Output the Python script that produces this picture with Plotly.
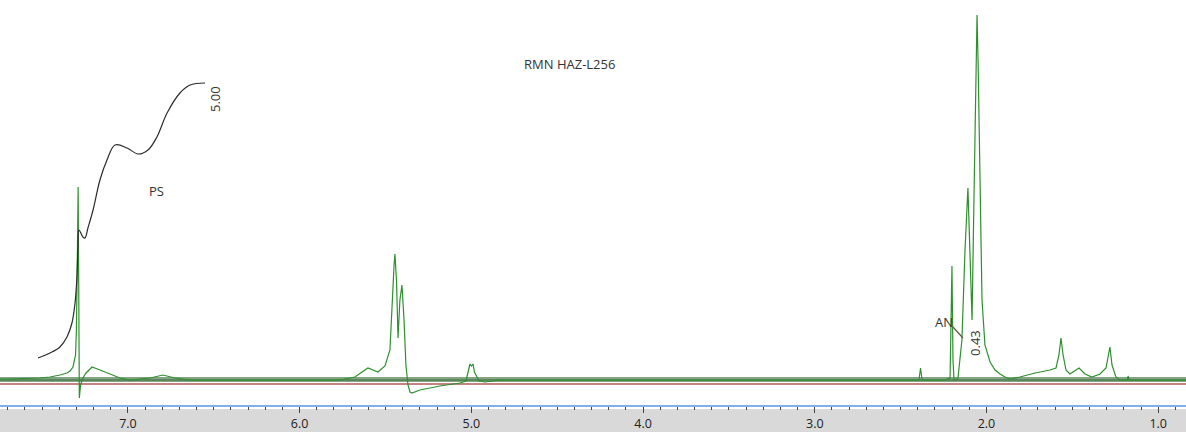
import plotly.graph_objects as go

# 1H NMR spectrum trace (chemical shift in ppm, intensity in arbitrary units)
spec_ppm = [7.745, 7.698, 7.512, 7.454, 7.396, 7.355, 7.337, 7.320, 7.305, 7.300,
            7.294, 7.290, 7.286, 7.283, 7.276, 7.262, 7.244, 7.209, 7.163, 7.104,
            7.046, 6.988, 6.871, 6.796, 6.726, 6.638, 5.765, 5.678, 5.602, 5.544,
            5.503, 5.474, 5.462, 5.450, 5.445, 5.436, 5.427, 5.416, 5.404, 5.392,
            5.381, 5.369, 5.357, 5.346, 5.299, 5.183, 5.066, 5.031, 5.019, 5.008,
            4.999, 4.990, 4.982, 4.973, 4.967, 4.955, 4.920, 4.833, 2.393, 2.384,
            2.375, 2.242, 2.212, 2.207, 2.201, 2.195, 2.189, 2.183, 2.166, 2.143,
            2.125, 2.108, 2.096, 2.084, 2.073, 2.061, 2.055, 2.049, 2.038, 2.026,
            2.009, 1.979, 1.950, 1.921, 1.892, 1.863, 1.805, 1.717, 1.630, 1.595,
            1.578, 1.566, 1.554, 1.537, 1.514, 1.461, 1.426, 1.386, 1.339, 1.304,
            1.281, 1.269, 1.246, 1.223, 1.180, 1.175, 1.170, 0.838]
spec_int = [1, 1, 2, 3, 5, 7, 9, 13, 25, 50,
            130, 193, 80, -18, -5, 2, 7, 13, 10, 6,
            2, 0, 2, 5, 2, 0, 0, 3, 12, 8,
            14, 30, 80, 115, 126, 100, 42, 80, 95, 60,
            15, -5, -12, -13, -10, -6, -3, -1, 8, 16,
            14, 16, 8, 5, 2, -1, -2, 0, 0, 12,
            0, 0, 2, 50, 114, 20, 0, 0, 2, 40,
            130, 192, 120, 60, 180, 320, 365, 320, 180, 80,
            35, 18, 10, 6, 3, 1, 3, 7, 10, 12,
            25, 42, 25, 10, 6, 12, 6, 3, 6, 12,
            33, 15, 3, 0, 0, 4, 0, 0]

# Integral curve over the aromatic (PS) region
int_ppm = [7.524, 7.454, 7.396, 7.355, 7.326, 7.308, 7.297, 7.291, 7.285, 7.262,
           7.250, 7.233, 7.203, 7.163, 7.122, 7.075, 7.005, 6.941, 6.883, 6.831,
           6.772, 6.697, 6.638, 6.551]
int_val = [22, 27, 33, 43, 57, 77, 103, 133, 150, 143,
           142, 152, 170, 200, 220, 235, 232, 226, 230, 243,
           267, 287, 295, 297]

# Short integral segment over the AN signal
an_ppm = [2.195, 2.166, 2.137]
an_val = [53, 48, 42]

ppm_range = [7.745, 0.838]
int_range = [-25, 380]

fig = go.Figure()

fig.add_trace(go.Scatter(x=spec_ppm, y=spec_int, mode="lines",
                         line=dict(color="#2f8f2f", width=1.2), hoverinfo="skip"))
fig.add_trace(go.Scatter(x=int_ppm, y=int_val, mode="lines",
                         line=dict(color="#2b2b2b", width=1.2, shape="spline"),
                         hoverinfo="skip"))
fig.add_trace(go.Scatter(x=an_ppm, y=an_val, mode="lines",
                         line=dict(color="#5c5c3a", width=1.2), hoverinfo="skip"))

# baseline bands under the spectrum
fig.add_shape(type="rect", xref="paper", x0=0, x1=1, yref="y", y0=-2, y1=3,
              fillcolor="#86a386", line=dict(width=0), layer="below")
fig.add_shape(type="line", xref="paper", x0=0, x1=1, yref="y", y0=0, y1=0,
              line=dict(color="#2e6f2e", width=1.2), layer="below")
fig.add_shape(type="line", xref="paper", x0=0, x1=1, yref="y", y0=-4, y1=-4,
              line=dict(color="#b05a5a", width=1.6), layer="below")
# grey ruler strip
fig.add_shape(type="rect", xref="paper", x0=0, x1=1, yref="paper",
              y0=-27 / 405, y1=-4 / 405, fillcolor="#d9d9d9",
              line=dict(width=0), layer="below")

txt = dict(family="Open Sans, Noto Sans, sans-serif", size=13, color="#333333")
fig.add_annotation(x=4.431, y=316, text="RMN HAZ-L256", showarrow=False, font=txt)
fig.add_annotation(x=6.831, y=189, text="PS", showarrow=False, font=txt)
fig.add_annotation(x=6.493, y=281, text="5.00", showarrow=False, font=txt, textangle=-90)
fig.add_annotation(x=2.247, y=58, text="AN", showarrow=False, font=txt)
fig.add_annotation(x=2.067, y=37, text="0.43", showarrow=False, font=txt, textangle=-90)

fig.update_layout(
    width=1186, height=432,
    margin=dict(l=0, r=0, t=0, b=27, autoexpand=False),
    paper_bgcolor="white", plot_bgcolor="white",
    showlegend=False,
    xaxis=dict(range=ppm_range, showgrid=False, zeroline=False, automargin=False,
               showline=True, linecolor="#7fb0e6", linewidth=2,
               tick0=0, dtick=1, tickformat=".1f",
               ticks="outside", ticklen=6, tickcolor="#444444", tickwidth=1,
               ticklabelstandoff=0,
               tickfont=dict(family="Open Sans, Noto Sans, sans-serif", size=12.5, color="#222222"),
               minor=dict(dtick=0.1, ticks="outside", ticklen=3, tickcolor="#444444", tickwidth=1)),
    yaxis=dict(range=int_range, visible=False, showgrid=False, zeroline=False),
)

fig.write_html("out.html")
